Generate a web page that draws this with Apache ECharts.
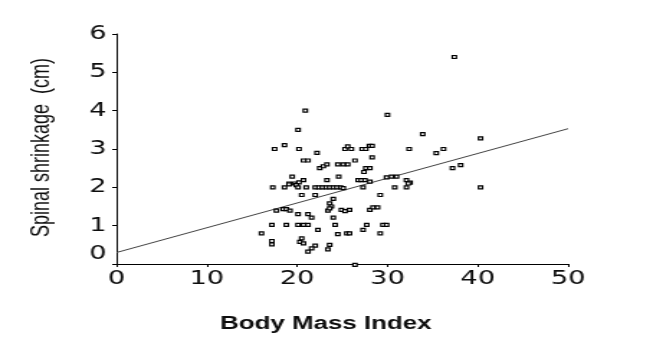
<!DOCTYPE html>
<html>
<head>
<meta charset="utf-8">
<script src="https://cdn.jsdelivr.net/npm/echarts@6/dist/echarts.min.js"></script>
<style>
  html, body { margin: 0; padding: 0; background: #fff; overflow: hidden; }
  /* the source figure is stretched sideways, so the chart is drawn narrow and widened */
  #chart { width: 454px; height: 352px; transform: scaleX(1.4383); transform-origin: 0 0; }
</style>
</head>
<body>
<div id="chart"></div>
<script>
// body mass index of each subject
var bmi = [
  20.9, 20.1, 17.5, 18.6, 20.2, 22.2, 25.3, 25.6, 26.0, 27.2, 27.6, 28.0, 28.3,
  20.7, 21.2, 22.5, 22.9, 23.3, 24.5, 25.1, 25.6, 26.4, 28.3, 27.6, 28.05, 27.4,
  19.45, 19.1, 19.7, 20.2, 20.7, 23.3, 24.6, 26.75, 27.1, 27.5, 28.05,
  29.9, 30.45, 31.0, 32.1, 32.5,
  17.3, 18.6, 19.1, 19.9, 20.1, 21.0, 22.0, 22.4, 22.8, 23.2, 23.6, 24.0, 24.4, 24.8,
  25.1, 27.3, 30.8, 32.1, 32.3, 40.3,
  20.5, 22.0, 24.0, 23.6, 23.8, 29.2,
  17.7, 18.45, 18.8, 19.2, 20.1, 21.2, 21.6, 23.4, 23.6, 24.0, 24.9, 25.3, 25.8,
  28.05, 28.4, 28.9,
  17.2, 18.8, 20.1, 20.7, 21.2, 22.3, 24.2, 27.7, 29.5, 29.9, 27.3,
  16.05, 17.2, 17.2, 20.5, 20.3, 20.7, 22.0, 21.6, 21.2, 23.6, 23.4,
  24.5, 25.5, 25.8, 29.2, 26.4,
  30.0, 33.9, 32.4, 35.4, 36.2, 37.2, 38.1, 40.3, 37.4
]
// spinal shrinkage (cm), same order as bmi
var shrinkage = [
  4.0, 3.5, 3.0, 3.1, 3.0, 2.9, 3.0, 3.07, 3.0, 3.0, 3.0, 3.08, 3.08,
  2.7, 2.7, 2.5, 2.55, 2.6, 2.6, 2.6, 2.6, 2.7, 2.78, 2.5, 2.5, 2.4,
  2.28, 2.1, 2.1, 2.13, 2.19, 2.19, 2.28, 2.19, 2.19, 2.19, 2.15,
  2.26, 2.28, 2.28, 2.19, 2.12,
  2.0, 2.0, 2.08, 2.06, 2.0, 2.0, 2.0, 2.0, 2.0, 2.0, 2.0, 2.0, 2.0, 2.0,
  1.98, 2.0, 2.0, 2.0, 2.1, 2.0,
  1.8, 1.8, 1.7, 1.58, 1.5, 1.8,
  1.39, 1.43, 1.43, 1.39, 1.3, 1.3, 1.21, 1.39, 1.45, 1.21, 1.41, 1.38, 1.41,
  1.41, 1.48, 1.48,
  1.02, 1.02, 1.02, 1.02, 1.02, 0.89, 1.02, 1.02, 1.02, 1.02, 0.89,
  0.8, 0.6, 0.51, 0.67, 0.58, 0.54, 0.48, 0.41, 0.32, 0.5, 0.38,
  0.78, 0.8, 0.8, 0.8, -0.02,
  3.89, 3.39, 3.0, 2.89, 3.0, 2.5, 2.58, 3.28, 5.4
]
// fitted regression line, ends at the axis limits
var fitX = [0, 50]
var fitY = [0.3, 3.53]

var TEXT = '#0d0d0d'

var points = []
for (var i = 0; i < bmi.length; i++) {
  points.push([bmi[i], shrinkage[i]])
}
var fitLine = []
for (var j = 0; j < fitX.length; j++) {
  fitLine.push([fitX[j], fitY[j]])
}

var chart = echarts.init(document.getElementById('chart'))
var option = {
  animation: false,
  backgroundColor: '#fff',
  grid: {
    left: 81,
    right: 59,
    top: 34,
    bottom: 88
  },
  xAxis: {
    type: 'value',
    min: 0,
    max: 50,
    interval: 10,
    name: 'Body Mass Index',
    nameLocation: 'middle',
    nameGap: 51,
    nameTextStyle: {
      fontSize: 18,
      fontWeight: 'bold',
      fontFamily: 'Liberation Sans',
      color: TEXT,
      padding: [0, 23, 0, 0]
    },
    axisLine: { show: true, onZero: false, lineStyle: { color: '#000', width: 1 } },
    axisTick: { show: true, length: 3, lineStyle: { color: '#000' } },
    splitLine: { show: false },
    axisLabel: {
      fontSize: 19,
      fontFamily: 'DejaVu Sans',
      color: TEXT,
      margin: 6
    }
  },
  yAxis: {
    type: 'value',
    min: 0,
    max: 6,
    interval: 1,
    name: 'Spinal shrinkage  (cm)',
    nameLocation: 'middle',
    nameGap: 43,
    nameTextStyle: {
      fontSize: 18,
      fontFamily: 'Liberation Sans',
      color: TEXT,
      padding: [0, 0, 0, 3]
    },
    axisLine: { show: true, onZero: false, lineStyle: { color: '#000', width: 1 } },
    axisTick: { show: true, length: 3, lineStyle: { color: '#000' } },
    splitLine: { show: false },
    axisLabel: {
      fontSize: 19,
      fontFamily: 'DejaVu Sans',
      color: TEXT,
      margin: 7,
      // the zero label sits a little above its tick in the source
      formatter: function (v) {
        return v === 0 ? '{z|0}' : String(v)
      },
      rich: {
        z: {
          fontSize: 19,
          fontFamily: 'DejaVu Sans',
          color: TEXT,
          padding: [0, 0, 20, 0]
        }
      }
    }
  },
  series: [
    {
      type: 'line',
      data: fitLine,
      symbol: 'none',
      z: 1,
      lineStyle: { color: '#444', width: 1 }
    },
    {
      type: 'scatter',
      data: points,
      symbol: 'rect',
      symbolSize: [2.8, 3],
      clip: false,
      z: 2,
      itemStyle: {
        color: '#fff',
        borderColor: '#000',
        borderWidth: 1.2,
        opacity: 1
      }
    }
  ]
}
chart.setOption(option)
</script>
</body>
</html>
